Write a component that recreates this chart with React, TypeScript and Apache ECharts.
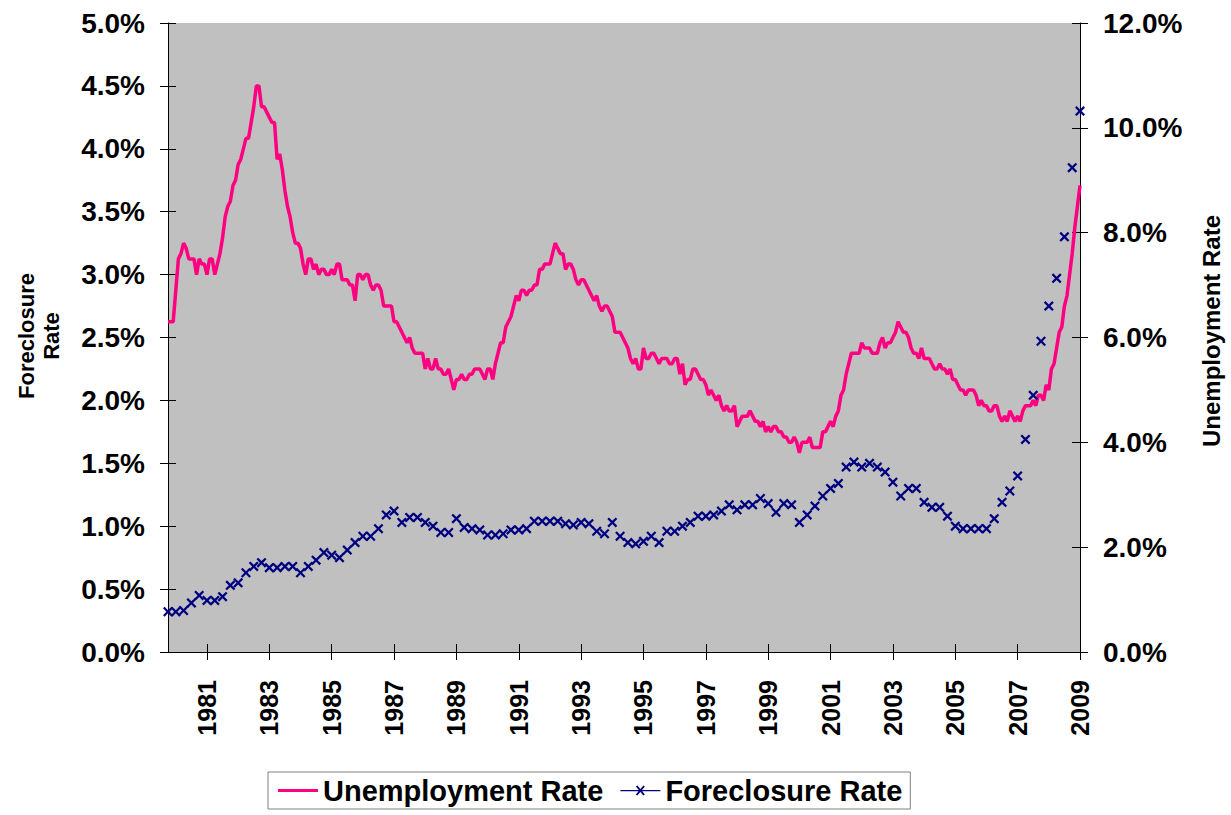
import React, { useEffect, useRef } from "react";
import * as echarts from "echarts";

// Monthly categories: Jan 1980 .. Apr 2009
const START_YEAR = 1980;
const MONTH_COUNT = 352;
const categories: string[] = [];
for (let i = 0; i < MONTH_COUNT; i++) {
  const y = START_YEAR + Math.floor(i / 12);
  const m = (i % 12) + 1;
  categories.push(`${y}-${String(m).padStart(2, "0")}`);
}
// tick / label positions on the category axis (every 24 months, ending at the last month)
const FIRST_TICK_INDEX = 15;
const TICK_STEP = 24;

// Unemployment rate (%), monthly
const unemp1980s = [
  6.3, 6.3, 6.3, 6.9, 7.5, 7.6, 7.8, 7.7, 7.5, 7.5, 7.5, 7.2,
  7.5, 7.4, 7.4, 7.2, 7.5, 7.5, 7.2, 7.4, 7.6, 7.9, 8.3, 8.5,
  8.6, 8.9, 9.0, 9.3, 9.4, 9.6, 9.8, 9.8, 10.1, 10.4, 10.8, 10.8,
  10.4, 10.4, 10.3, 10.2, 10.1, 10.1, 9.4, 9.5, 9.2, 8.8, 8.5, 8.3,
  8.0, 7.8, 7.8, 7.7, 7.4, 7.2, 7.5, 7.5, 7.3, 7.4, 7.2, 7.3,
  7.3, 7.2, 7.2, 7.3, 7.2, 7.4, 7.4, 7.1, 7.1, 7.1, 7.0, 7.0,
  6.7, 7.2, 7.2, 7.1, 7.2, 7.2, 7.0, 6.9, 7.0, 7.0, 6.9, 6.6,
  6.6, 6.6, 6.6, 6.3, 6.3, 6.2, 6.1, 6.0, 5.9, 6.0, 5.8, 5.7,
  5.7, 5.7, 5.7, 5.4, 5.6, 5.4, 5.4, 5.6, 5.4, 5.4, 5.3, 5.3,
  5.4, 5.2, 5.0, 5.2, 5.2, 5.3, 5.2, 5.2, 5.3, 5.3, 5.4, 5.4,
];
const unemp1990s = [
  5.4, 5.3, 5.2, 5.4, 5.4, 5.2, 5.5, 5.7, 5.9, 5.9, 6.2, 6.3,
  6.4, 6.6, 6.8, 6.7, 6.9, 6.9, 6.8, 6.9, 6.9, 7.0, 7.0, 7.3,
  7.3, 7.4, 7.4, 7.4, 7.6, 7.8, 7.7, 7.6, 7.6, 7.3, 7.4, 7.4,
  7.3, 7.1, 7.0, 7.1, 7.1, 7.0, 6.9, 6.8, 6.7, 6.8, 6.6, 6.5,
  6.6, 6.6, 6.5, 6.4, 6.1, 6.1, 6.1, 6.0, 5.9, 5.8, 5.6, 5.5,
  5.6, 5.4, 5.4, 5.8, 5.6, 5.6, 5.7, 5.7, 5.6, 5.5, 5.6, 5.6,
  5.6, 5.5, 5.5, 5.6, 5.6, 5.3, 5.5, 5.1, 5.2, 5.2, 5.4, 5.4,
  5.3, 5.2, 5.2, 5.1, 4.9, 5.0, 4.9, 4.8, 4.9, 4.7, 4.6, 4.7,
  4.6, 4.6, 4.7, 4.3, 4.4, 4.5, 4.5, 4.5, 4.6, 4.5, 4.4, 4.4,
  4.3, 4.4, 4.2, 4.3, 4.2, 4.3, 4.3, 4.2, 4.2, 4.1, 4.1, 4.0,
];
const unemp2000s = [
  4.0, 4.1, 4.0, 3.8, 4.0, 4.0, 4.0, 4.1, 3.9, 3.9, 3.9, 3.9,
  4.2, 4.2, 4.3, 4.4, 4.3, 4.5, 4.6, 4.9, 5.0, 5.3, 5.5, 5.7,
  5.7, 5.7, 5.7, 5.9, 5.8, 5.8, 5.8, 5.7, 5.7, 5.7, 5.9, 6.0,
  5.8, 5.9, 5.9, 6.0, 6.1, 6.3, 6.2, 6.1, 6.1, 6.0, 5.8, 5.7,
  5.7, 5.6, 5.8, 5.6, 5.6, 5.6, 5.5, 5.4, 5.4, 5.5, 5.4, 5.4,
  5.3, 5.4, 5.2, 5.2, 5.1, 5.0, 5.0, 4.9, 5.0, 5.0, 5.0, 4.9,
  4.7, 4.8, 4.7, 4.7, 4.6, 4.6, 4.7, 4.7, 4.5, 4.4, 4.5, 4.4,
  4.6, 4.5, 4.4, 4.5, 4.4, 4.6, 4.7, 4.7, 4.7, 4.8, 4.7, 4.9,
  4.9, 4.8, 5.1, 5.0, 5.4, 5.5, 5.8, 6.1, 6.2, 6.6, 6.8, 7.2,
  7.6, 8.1, 8.5, 8.9,
];

// Foreclosure rate (%), quarterly
const fore1980s = [
  0.32, 0.32, 0.33, 0.39, 0.45, 0.41, 0.41, 0.44, 0.53, 0.55,
  0.63, 0.68, 0.71, 0.67, 0.67, 0.68, 0.68, 0.63, 0.68, 0.73,
  0.79, 0.77, 0.75, 0.81, 0.87, 0.92, 0.92, 0.98, 1.09, 1.12,
  1.03, 1.07, 1.07, 1.03, 1.0, 0.95, 0.95, 1.06, 0.99, 0.98,
];
const fore1990s = [
  0.97, 0.93, 0.93, 0.94, 0.97, 0.97, 0.98, 1.04, 1.04, 1.04,
  1.04, 1.02, 1.01, 1.03, 1.02, 0.96, 0.94, 1.03, 0.92, 0.87,
  0.86, 0.88, 0.92, 0.87, 0.96, 0.96, 1.0, 1.03, 1.08, 1.08,
  1.09, 1.12, 1.17, 1.13, 1.17, 1.17, 1.22, 1.18, 1.11, 1.18,
];
const fore2000s = [
  1.17, 1.03, 1.09, 1.16, 1.24, 1.3, 1.34, 1.47, 1.51, 1.47,
  1.5, 1.47, 1.43, 1.35, 1.24, 1.3, 1.3, 1.19, 1.15, 1.15,
  1.08, 1.0, 0.98, 0.98, 0.98, 0.98, 1.06, 1.19, 1.28, 1.4,
  1.69, 2.04, 2.47, 2.75, 2.97, 3.3, 3.85, 4.3,
];
const QUARTER_OFFSET = 0;
const QUARTER_STEP = 3;

const leftTicks = { min: 0, max: 5, interval: 0.5 };
const rightTicks = { min: 0, max: 12, interval: 2 };

const FONT = "'Liberation Sans', Arial, sans-serif";
const PINK = "#FF0080";
const NAVY = "#000080";
const X_MARK = "path://M0,1.6L1.6,0L5,3.4L8.4,0L10,1.6L6.6,5L10,8.4L8.4,10L5,6.6L1.6,10L0,8.4L3.4,5Z";

export default function App() {
  const ref = useRef<HTMLDivElement>(null);
  useEffect(() => {
    if (!ref.current) return;
    const chart = echarts.init(ref.current, undefined, { renderer: "svg" });
    const unemployment = [...unemp1980s, ...unemp1990s, ...unemp2000s];
    const quarterly = [...fore1980s, ...fore1990s, ...fore2000s];
    const foreclosure = categories.map((_, i) =>
      i >= QUARTER_OFFSET && (i - QUARTER_OFFSET) % QUARTER_STEP === 0
        ? quarterly[(i - QUARTER_OFFSET) / QUARTER_STEP] ?? null
        : null
    );
    const tickAt = (i: number) => i >= FIRST_TICK_INDEX && (i - FIRST_TICK_INDEX) % TICK_STEP === 0;
    const pct = (v: number) => v.toFixed(1) + "%";
    const labelStyle = { color: "#000", fontSize: 28, fontWeight: "bold" as const, fontFamily: FONT };

    chart.setOption({
      animation: false,
      backgroundColor: "#fff",
      grid: {
        left: 168,
        right: 151,
        top: 23,
        bottom: 163,
        show: true,
        backgroundColor: "#C0C0C0",
        borderWidth: 0,
      },
      graphic: [
        {
          type: "text",
          x: 39,
          y: 336,
          rotation: Math.PI / 2,
          style: {
            text: "Foreclosure\nRate",
            fill: "#000",
            font: `bold 22px ${FONT}`,
            align: "center",
            verticalAlign: "middle",
            lineHeight: 25,
          },
        },
        {
          type: "text",
          x: 1211,
          y: 331,
          rotation: Math.PI / 2,
          style: {
            text: "Unemployment Rate",
            fill: "#000",
            font: `bold 24px ${FONT}`,
            align: "center",
            verticalAlign: "middle",
          },
        },
      ],
      legend: {
        left: 268,
        top: 772,
        orient: "horizontal",
        borderColor: "#808080",
        borderWidth: 1,
        backgroundColor: "#fff",
        padding: [4, 8, 4, 10],
        itemGap: 17,
        itemWidth: 40,
        itemHeight: 14,
        textStyle: { color: "#000", fontSize: 29, fontWeight: "bold", fontFamily: FONT },
        data: [
          {
            name: "Unemployment Rate",
            icon: "path://M0,5.5H40V8.5H0Z",
            itemStyle: { color: PINK, borderWidth: 0 },
          },
          {
            name: "Foreclosure Rate",
            icon: "path://M0,6.5H40V7.7H0Z M15.5,3 L17,2 L24.5,11 L23,12 Z M23,2 L24.5,3 L17,12 L15.5,11 Z",
            itemStyle: { color: NAVY, borderWidth: 0 },
          },
        ],
      },
      xAxis: [
        {
          type: "category",
          data: categories,
          boundaryGap: false,
          axisLine: { show: true, onZero: false, lineStyle: { color: "#000", width: 1 } },
          axisTick: { show: true, interval: (i: number) => tickAt(i), length: 8, lineStyle: { color: "#000" } },
          axisLabel: {
            interval: (i: number) => tickAt(i),
            rotate: 90,
            margin: 28,
            formatter: (v: string) => v.slice(0, 4),
            ...labelStyle,
            fontSize: 25,
          },
          splitLine: { show: false },
        },
        {
          type: "category",
          data: categories,
          boundaryGap: false,
          position: "bottom",
          axisLine: { show: false },
          axisTick: { show: true, inside: true, interval: (i: number) => tickAt(i), length: 8, lineStyle: { color: "#000" } },
          axisLabel: { show: false },
          splitLine: { show: false },
        },
      ],
      yAxis: [
        {
          type: "value",
          position: "left",
          ...leftTicks,
          axisLine: { show: true, lineStyle: { color: "#000", width: 1 } },
          axisTick: { show: true, length: 8, lineStyle: { color: "#000" } },
          axisLabel: { formatter: pct, margin: 23, ...labelStyle },
          splitLine: { show: false },
        },
        {
          type: "value",
          position: "right",
          ...rightTicks,
          axisLine: { show: true, lineStyle: { color: "#000", width: 1 } },
          axisTick: { show: true, length: 8, lineStyle: { color: "#000" } },
          axisLabel: { formatter: pct, margin: 23, ...labelStyle },
          splitLine: { show: false },
        },
        {
          type: "value",
          position: "left",
          ...leftTicks,
          axisLine: { show: false },
          axisTick: { show: true, inside: true, length: 8, lineStyle: { color: "#000" } },
          axisLabel: { show: false },
          splitLine: { show: false },
        },
        {
          type: "value",
          position: "right",
          ...rightTicks,
          axisLine: { show: false },
          axisTick: { show: true, inside: true, length: 8, lineStyle: { color: "#000" } },
          axisLabel: { show: false },
          splitLine: { show: false },
        },
      ],
      series: [
        {
          name: "Unemployment Rate",
          type: "line",
          xAxisIndex: 0,
          yAxisIndex: 1,
          data: unemployment,
          showSymbol: false,
          symbol: "none",
          lineStyle: { color: PINK, width: 3.5 },
          itemStyle: { color: PINK },
          z: 2,
        },
        {
          name: "Foreclosure Rate",
          type: "line",
          xAxisIndex: 0,
          yAxisIndex: 0,
          data: foreclosure,
          connectNulls: false,
          symbol: X_MARK,
          symbolSize: 10,
          showSymbol: true,
          showAllSymbol: true,
          lineStyle: { color: NAVY, width: 1.5 },
          itemStyle: { color: NAVY, borderWidth: 0 },
          z: 3,
        },
      ],
    });
    return () => chart.dispose();
  }, []);
  return <div ref={ref} style={{ position: "fixed", left: 0, top: 0, width: 1231, height: 815 }} />;
}
